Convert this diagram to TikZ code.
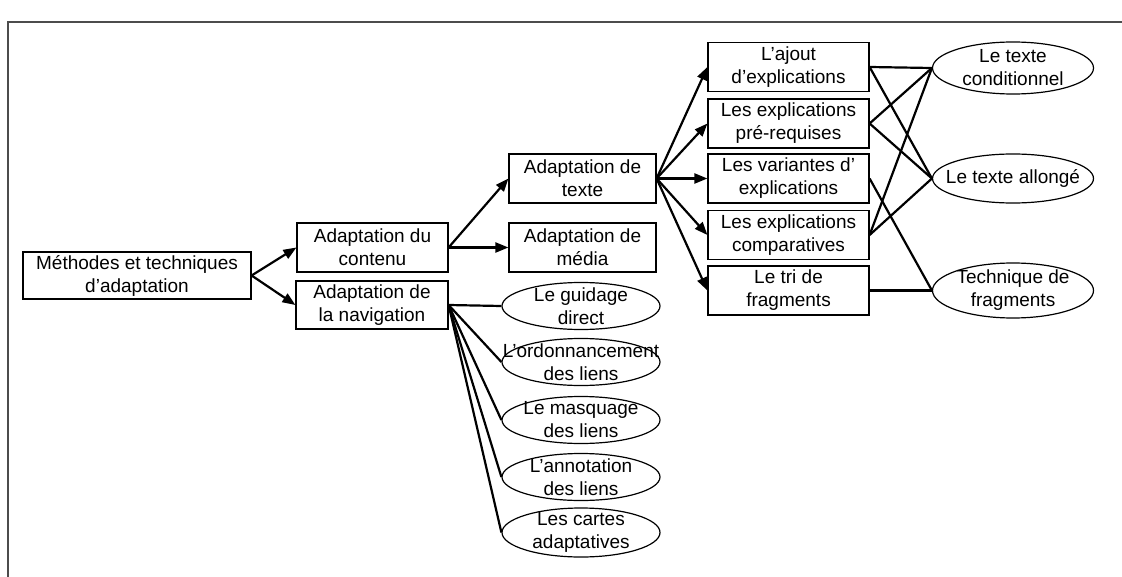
\documentclass[tikz,border=0pt]{standalone}
\usepackage{fontspec}
\setmainfont{Liberation Sans}
\usetikzlibrary{shapes.geometric,arrows.meta}

\begin{document}
\begin{tikzpicture}[x=0.5pt,y=-0.5pt]
\tikzstyle{every node}=[font=\fontsize{9.5}{11.5}\selectfont,align=center];
\tikzstyle{boite}=[draw,rectangle,line width=0.6pt,inner sep=0pt,minimum width=80.5pt,minimum height=24.5pt];
\tikzstyle{ovale}=[draw,ellipse,line width=0.6pt,inner sep=0pt,minimum width=80.5pt,minimum height=26pt];
\tikzstyle{petitovale}=[ovale,minimum width=79pt,minimum height=23.5pt];
\tikzstyle{fleche}=[line width=1.1pt,-{Triangle[length=6.5pt,width=5pt]}];
\tikzstyle{lien}=[line width=1.1pt];

\useasboundingbox (0,0) rectangle (1122,577);
\draw[gray!60!black,line width=0.7pt] (8,577) -- (8,22) -- (1122,22);

% niveaux 1 et 2
\node[boite,minimum width=114pt,minimum height=23.5pt] (methodes) at (137,275.5) {Méthodes et techniques\\d'adaptation};
\node[boite,minimum width=75.5pt] (contenu) at (372.5,247.5) {Adaptation du\\contenu};
\node[boite,minimum width=76pt,minimum height=24pt] (navigation) at (372,305) {Adaptation de\\la navigation};
\node[boite,minimum width=73.5pt] (texte) at (582.5,178.5) {Adaptation de\\texte};
\node[boite,minimum width=73.5pt] (media) at (582.5,247.5) {Adaptation de\\média};

% explications
\node[boite] (ajout) at (788.5,67) {L'ajout\\d'explications};
\node[boite] (prerequises) at (788.5,123.5) {Les explications\\pré-requises};
\node[boite] (variantes) at (788.5,178.5) {Les variantes d'\\explications};
\node[boite] (comparatives) at (788.5,235) {Les explications\\comparatives};
\node[boite] (tri) at (788.5,290.5) {Le tri de\\fragments};

% techniques
\node[ovale,label={[align=center]center:{Le texte\\conditionnel}}] (conditionnel) at (1013,68) {};
\node[ovale,minimum height=24.5pt,label={center:Le texte allongé}] (allonge) at (1013,178.5) {};
\node[ovale,minimum height=27.5pt,label={[align=center]center:{Technique de\\fragments}}] (fragments) at (1013,290.5) {};

% navigation
\node[petitovale,label={[align=center]center:{Le guidage\\direct}}] (guidage) at (581,306) {};
\node[petitovale,label={[align=center]center:{L’ordonnancement\\des liens}}] (ordonnancement) at (581,362) {};
\node[petitovale,label={[align=center]center:{Le masquage\\des liens}}] (masquage) at (581,420) {};
\node[petitovale,label={[align=center]center:{L’annotation\\des liens}}] (annotation) at (581,477) {};
\node[petitovale,minimum height=24.5pt,label={[align=center]center:{Les cartes\\adaptatives}}] (cartes) at (581,532.5) {};

% fleches
\draw[fleche] (methodes.east) -- (contenu.west);
\draw[fleche] (methodes.east) -- (navigation.west);
\draw[fleche] (contenu.east) -- (texte.west);
\draw[fleche] (contenu.east) -- (media.west);
\foreach \n in {ajout,prerequises,variantes,comparatives,tri}
  \draw[fleche] (texte.east) -- (\n.west);

% liens
\draw[lien] (ajout.east) -- (conditionnel.west);
\draw[lien] (ajout.east) -- (allonge.west);
\draw[lien] (prerequises.east) -- (conditionnel.west);
\draw[lien] (prerequises.east) -- (allonge.west);
\draw[lien] (variantes.east) -- (fragments.west);
\draw[lien] (comparatives.east) -- (conditionnel.west);
\draw[lien] (comparatives.east) -- (allonge.west);
\draw[lien] (tri.east) -- (fragments.west);
\foreach \n in {guidage,ordonnancement,masquage,annotation,cartes}
  \draw[lien] (navigation.east) -- (\n.west);
\end{tikzpicture}
\end{document}
